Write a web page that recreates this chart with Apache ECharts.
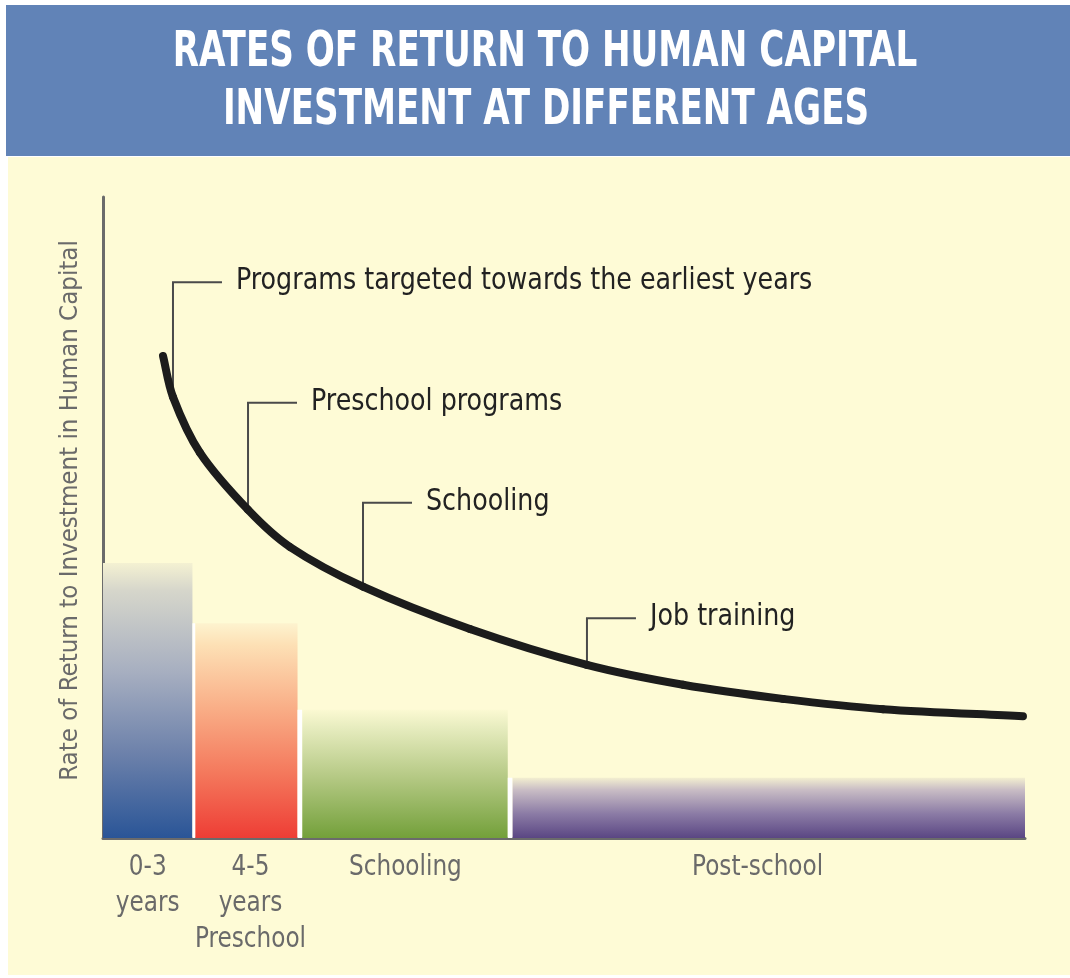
<!DOCTYPE html>
<html>
<head>
<meta charset="utf-8">
<script src="https://cdn.jsdelivr.net/npm/echarts@6/dist/echarts.min.js"></script>
<style>
html,body{margin:0;padding:0;background:#ffffff;}
#chart{width:1070px;height:978px;}
</style>
</head>
<body>
<div id="chart"></div>
<script>
// ---- data ----
const titleLines = ['RATES OF RETURN TO HUMAN CAPITAL', 'INVESTMENT AT DIFFERENT AGES'];
const yAxisName = 'Rate of Return to Investment in Human Capital';

// age-group bars: start, end (x units), height (rate units)
const barNames = ['0-3 years', '4-5 years Preschool', 'Schooling', 'Post-school'];
const barStart = [0, 10.0, 21.6, 44.4];
const barEnd = [9.7, 21.1, 43.9, 100];
const barHeight = [42.9, 33.5, 20.0, 9.4];
const barLabelLines = [['0-3', 'years'], ['4-5', 'years', 'Preschool'], ['Schooling'], ['Post-school']];
const barLabelX = [4.85, 16.0, 32.8, 71.0];

// rate of return curve
const curveX = [6.51, 7.59, 10.52, 15.73, 20.28, 28.2, 39.8, 52.49, 62.91, 73.75, 84.6, 99.78];
const curveY = [75.2, 68.8, 60.1, 51.2, 45.4, 39.2, 32.6, 27.0, 23.9, 21.7, 20.1, 19.0];

// annotations: anchor on curve and elbow height
const annText = ['Programs targeted towards the earliest years', 'Preschool programs', 'Schooling', 'Job training'];
const annX = [7.59, 15.73, 28.2, 52.49];
const annY = [68.8, 51.2, 39.2, 27.0];
const annElbowY = [86.7, 67.9, 52.3, 34.3];

// ---- styles ----
const FONT = '"Liberation Sans Narrow", "DejaVu Sans Condensed", "Noto Sans", sans-serif';
const barGradients = [
  [[0, '#f4f1d2'], [0.1, '#d6d6cb'], [0.4, '#a6aec0'], [0.7, '#6b80aa'], [1, '#2a5597']],
  [[0, '#fdf3cf'], [0.1, '#fde0b5'], [0.4, '#f9ad86'], [0.7, '#f4785c'], [1, '#ee3d35']],
  [[0, '#fbf9d2'], [0.15, '#e5ebbd'], [0.5, '#b8cb88'], [1, '#73a03a']],
  [[0, '#f3efd0'], [0.2, '#c9bdc5'], [0.6, '#8b7ba5'], [1, '#5a4683']]
];

const chart = echarts.init(document.getElementById('chart'), null, {renderer: 'canvas'});

const barData = barNames.map((n, i) => [barStart[i], barEnd[i], barHeight[i], i]);
const annData = annText.map((t, i) => [annX[i], annY[i], annElbowY[i], i]);
const curveData = curveX.map((x, i) => [x, curveY[i]]);

function dist(a, b) { return Math.hypot(b[0] - a[0], b[1] - a[1]); }

const option = {
  backgroundColor: '#ffffff',
  animation: false,
  graphic: [
    {type: 'rect', z: -10, shape: {x: 8, y: 157, width: 1062, height: 818}, style: {fill: '#fefbd6'}},
    {type: 'rect', z: -10, shape: {x: 6, y: 5, width: 1064, height: 151}, style: {fill: '#6183b7'}},
    {type: 'text', z: 10, x: 545, y: 53, scaleX: 0.76,
     style: {text: titleLines[0], x: 0, y: 0, align: 'center', verticalAlign: 'middle', fill: '#ffffff', font: 'bold 50px ' + FONT}},
    {type: 'text', z: 10, x: 546, y: 111, scaleX: 0.76,
     style: {text: titleLines[1], x: 0, y: 0, align: 'center', verticalAlign: 'middle', fill: '#ffffff', font: 'bold 50px ' + FONT}}
  ],
  grid: {left: 103, right: 45, top: 197, bottom: 140},
  xAxis: {
    type: 'value', min: 0, max: 100,
    axisLine: {show: true, onZero: false, lineStyle: {color: '#6b6b6b', width: 3}},
    axisTick: {show: false}, axisLabel: {show: false}, splitLine: {show: false}
  },
  yAxis: {
    type: 'value', min: 0, max: 100,
    name: yAxisName, nameLocation: 'middle', nameRotate: 90, nameGap: 20,
    nameTextStyle: {color: '#6a6a6a', fontFamily: FONT, fontSize: 25.6, padding: [0, 0, 0, 14]},
    axisLine: {show: true, onZero: false, lineStyle: {color: '#6b6b6b', width: 3}},
    axisTick: {show: false}, axisLabel: {show: false}, splitLine: {show: false}
  },
  series: [
    {
      type: 'custom',
      z: 1,
      data: barData,
      renderItem: function (params, api) {
        const i = api.value(3);
        const p0 = api.coord([api.value(0), 0]);
        const p1 = api.coord([api.value(1), api.value(2)]);
        const children = [{
          type: 'rect',
          shape: {x: p0[0], y: p1[1], width: p1[0] - p0[0], height: p0[1] - p1[1]},
          style: {fill: new echarts.graphic.LinearGradient(0, 0, 0, 1, barGradients[i].map(s => ({offset: s[0], color: s[1]})))}
        }];
        if (i > 0) {
          const g0 = api.coord([barEnd[i - 1], 0]);
          const gh = api.coord([0, Math.min(barHeight[i], barHeight[i - 1])]);
          children.push({
            type: 'rect',
            shape: {x: g0[0], y: gh[1], width: p0[0] - g0[0], height: g0[1] - gh[1]},
            style: {fill: '#ffffff'}
          });
        }
        const lines = barLabelLines[i];
        const lp = api.coord([barLabelX[i], 0]);
        lines.forEach((t, k) => {
          children.push({
            type: 'text',
            x: lp[0], y: lp[1] + 30 + k * 36, scaleX: 0.92,
            style: {
              text: t, x: 0, y: 0,
              align: 'center', verticalAlign: 'middle',
              fill: '#6a6a6a', font: '28px ' + FONT
            }
          });
        });
        return {type: 'group', children: children};
      }
    },
    {
      // rate-of-return curve: smooth Hermite segments through the data points
      type: 'custom',
      z: 3,
      data: curveData,
      renderItem: function (params, api) {
        const n = curveX.length;
        const i = params.dataIndex;
        if (i >= n - 1) return null;
        const P = curveX.map((x, k) => api.coord([x, curveY[k]]));
        function tangent(k) {
          const a = P[Math.max(k - 1, 0)], b = P[Math.min(k + 1, n - 1)];
          const d = dist(a, P[k]) + dist(P[k], b);
          return [(b[0] - a[0]) / d, (b[1] - a[1]) / d];
        }
        const t0 = tangent(i), t1 = tangent(i + 1);
        const L = dist(P[i], P[i + 1]) / 3;
        return {
          type: 'bezierCurve',
          shape: {
            x1: P[i][0], y1: P[i][1], x2: P[i + 1][0], y2: P[i + 1][1],
            cpx1: P[i][0] + t0[0] * L, cpy1: P[i][1] + t0[1] * L,
            cpx2: P[i + 1][0] - t1[0] * L, cpy2: P[i + 1][1] - t1[1] * L
          },
          style: {stroke: '#1c1c1c', lineWidth: 8, lineCap: 'round', fill: null}
        };
      }
    },
    {
      type: 'custom',
      z: 2,
      data: annData,
      renderItem: function (params, api) {
        const i = api.value(3);
        const a = api.coord([api.value(0), api.value(1)]);
        const e = api.coord([api.value(0), api.value(2)]);
        const arm = 49;
        return {
          type: 'group',
          children: [
            {
              type: 'polyline',
              shape: {points: [a, e, [e[0] + arm, e[1]]]},
              style: {stroke: '#4a4a4a', lineWidth: 2, fill: null}
            },
            {
              type: 'text',
              x: e[0] + arm + 14, y: e[1] - 1, scaleX: 0.91,
              style: {
                text: annText[i], x: 0, y: 0,
                align: 'left', verticalAlign: 'middle',
                fill: '#222222', font: '31px ' + FONT
              }
            }
          ]
        };
      }
    }
  ]
};
chart.setOption(option);
</script>
</body>
</html>
